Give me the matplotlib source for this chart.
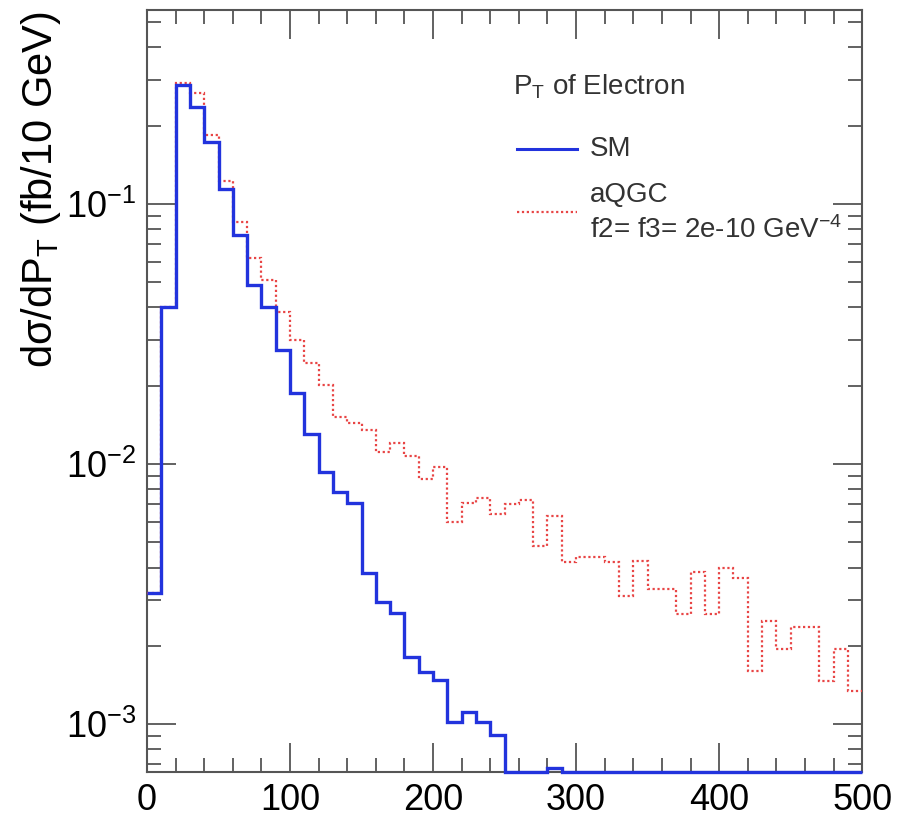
import numpy as np
import matplotlib
matplotlib.use("Agg")
import matplotlib.pyplot as plt
from matplotlib.lines import Line2D
from matplotlib.ticker import MultipleLocator, LogLocator, NullFormatter

plt.rcParams['font.family'] = ['Liberation Sans', 'DejaVu Sans']
plt.rcParams['mathtext.fontset'] = 'custom'
plt.rcParams['mathtext.rm'] = 'Liberation Sans'
plt.rcParams['mathtext.it'] = 'Liberation Sans:italic'
plt.rcParams['axes.unicode_minus'] = False

#  10 GeV bins from 0 to 500
edges = np.arange(0, 510, 10)

#  SM, d sigma / dPT  (fb / 10 GeV), empty bins are 0
sm = [3.2e-3, 0.040, 0.287, 0.236, 0.173, 0.114, 0.076, 0.0488, 0.040, 0.0274,
      0.0187, 0.0131, 0.0093, 0.0078, 0.0071, 0.0038, 0.00294, 0.00267, 0.00181, 0.00158,
      0.00148, 0.00102, 0.00111, 0.00102, 0.00091, 0, 0, 0, 6.8e-4, 0,
      0, 0, 0, 0, 0, 0, 0, 0, 0, 0,
      0, 0, 0, 0, 0, 0, 0, 0, 0, 0]

#  aQGC, f2 = f3 = 2e-10 GeV^-4
aqgc = [3.2e-3, 0.040, 0.292, 0.267, 0.184, 0.123, 0.085, 0.062, 0.051, 0.0385,
        0.030, 0.0245, 0.0201, 0.0152, 0.0144, 0.0135, 0.0111, 0.0120, 0.0107, 0.00875,
        0.0097, 0.0060, 0.0071, 0.0074, 0.0064, 0.0070, 0.0073, 0.00484, 0.0063, 0.0042,
        0.0044, 0.0044, 0.0042, 0.0031, 0.00425, 0.0033, 0.0033, 0.00265, 0.00385, 0.00265,
        0.0040, 0.00366, 0.0016, 0.0025, 0.00194, 0.00236, 0.00236, 0.00147, 0.00194, 0.00134]

ymin, ymax = 6.54e-4, 0.557

fig = plt.figure(figsize=(8.99, 8.24), dpi=100)
ax = fig.add_axes([0.1635, 0.063, 0.7955, 0.925])

blue = '#2233dd'
red = '#e84545'
dots = (0, (1, 1.2))

#  empty bins sit on the bottom of the frame, like ROOT does
ax.stairs(np.maximum(sm, ymin), edges, color=blue, linewidth=2.4, baseline=None,
          clip_on=False, zorder=5)
ax.stairs(np.maximum(aqgc, ymin), edges, color=red, linewidth=1.6, linestyle=dots,
          baseline=None, zorder=4)

ax.set_yscale('log')
ax.set_xlim(0, 500)
ax.set_ylim(ymin, ymax)

frame = '#555555'
for s in ax.spines.values():
    s.set_color(frame)
    s.set_linewidth(1.5)

ax.xaxis.set_major_locator(MultipleLocator(100))
ax.xaxis.set_minor_locator(MultipleLocator(20))
ax.yaxis.set_major_locator(LogLocator(base=10))
ax.yaxis.set_minor_locator(LogLocator(base=10, subs=np.arange(2, 10)))
ax.yaxis.set_minor_formatter(NullFormatter())
ax.tick_params(which='both', direction='in', top=True, right=True, color=frame, width=1.3,
               labelsize=26)
ax.tick_params(which='major', length=21)
ax.tick_params(which='minor', length=10)
ax.tick_params(axis='x', pad=8)
ax.tick_params(axis='y', pad=8)

ax.set_ylabel('dσ/dP$_\\mathrm{T}$ (fb/10 GeV)', fontsize=30, loc='top')
ax.yaxis.set_label_coords(-0.118, 0.998)

#  legend, drawn by hand in the ROOT layout
fs = 20
ax.text(0.512, 0.899, 'P$_\\mathrm{T}$ of Electron', transform=ax.transAxes,
        fontsize=fs, ha='left', va='center', color='#333333')
ax.add_line(Line2D([0.517, 0.601], [0.8176, 0.8176], transform=ax.transAxes,
                   color=blue, linewidth=2.2))
ax.text(0.6196, 0.8176, 'SM', transform=ax.transAxes, fontsize=fs, ha='left',
        va='center', color='#333333')
ax.text(0.6196, 0.757, 'aQGC', transform=ax.transAxes, fontsize=fs, ha='left',
        va='center', color='#333333')
ax.add_line(Line2D([0.517, 0.601], [0.735, 0.735], transform=ax.transAxes,
                   color=red, linewidth=1.6, linestyle=dots))
ax.text(0.6196, 0.711, 'f2= f3= 2e-10 GeV$^{-4}$', transform=ax.transAxes,
        fontsize=fs, ha='left', va='center', color='#333333')

fig.savefig('out.png', dpi=100)
